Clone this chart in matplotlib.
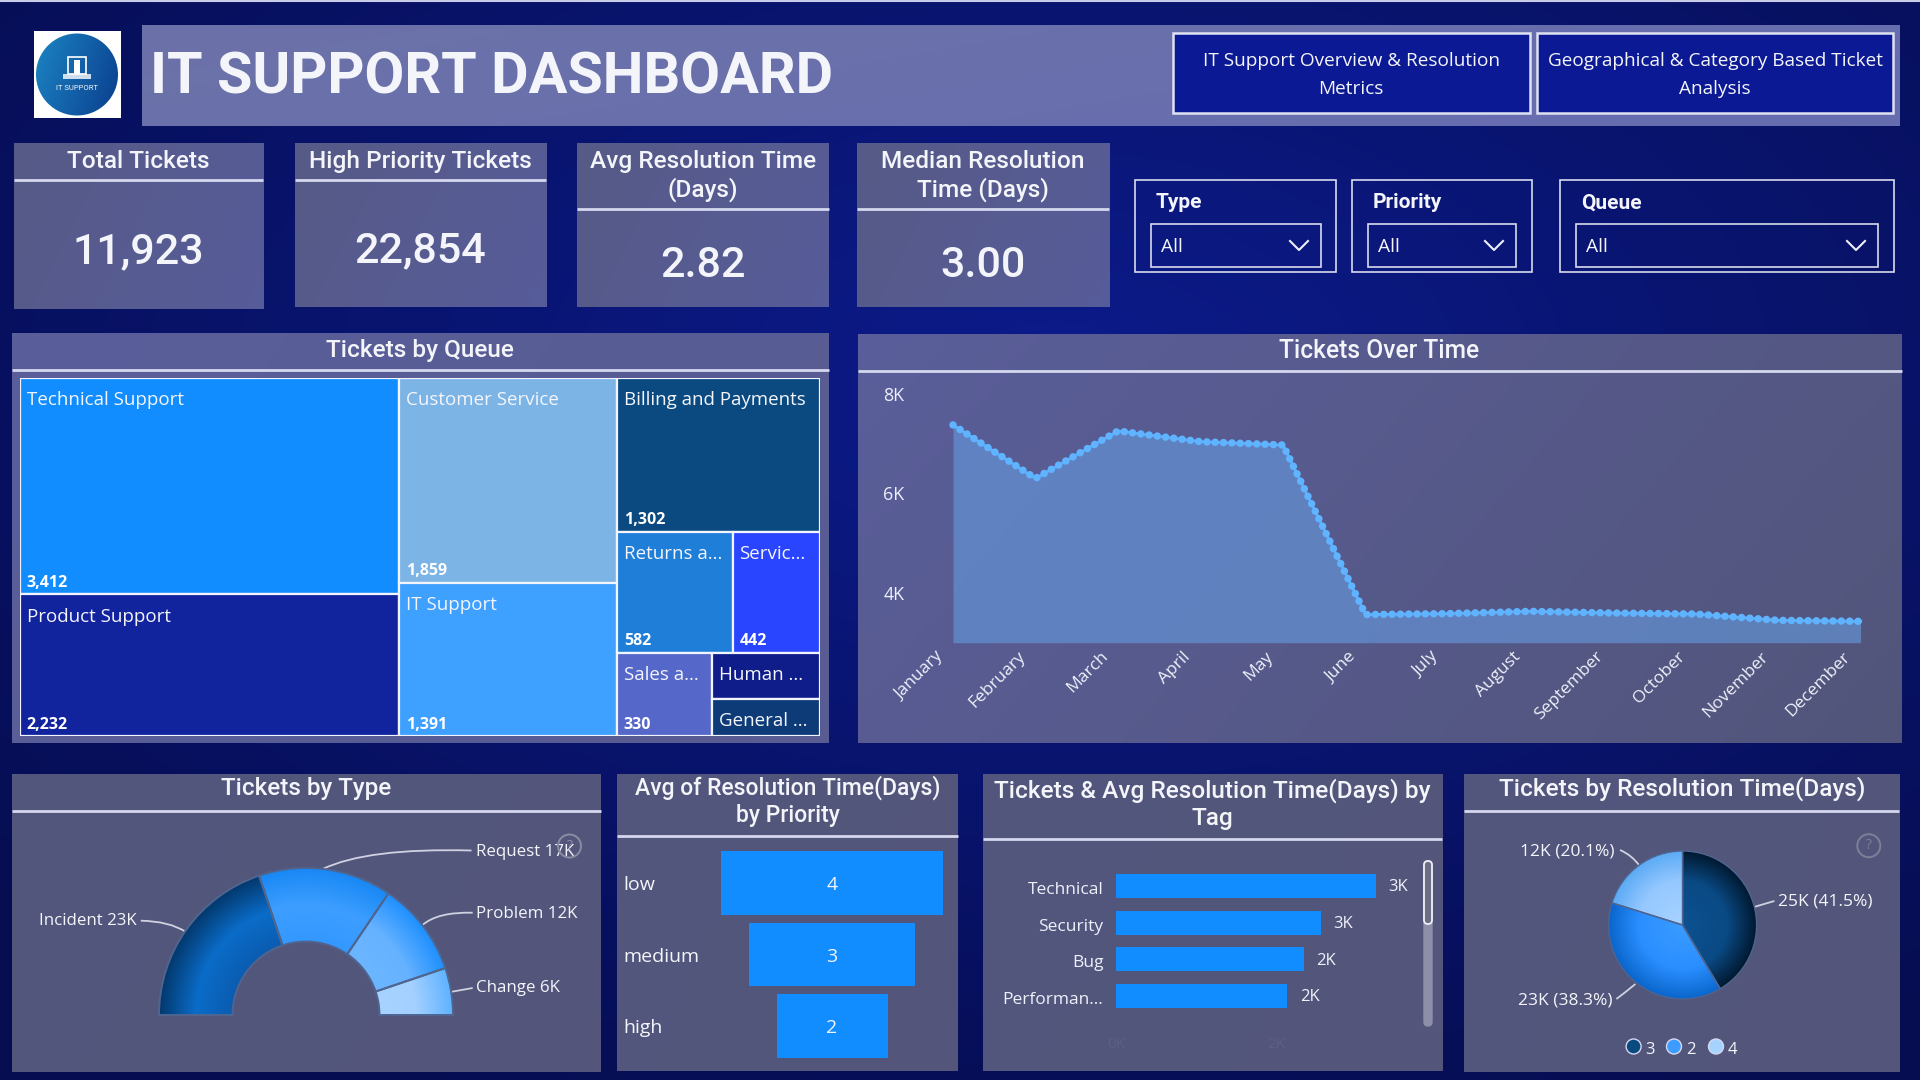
import numpy as np
import matplotlib
matplotlib.use("Agg")
import matplotlib.pyplot as plt
from matplotlib.colors import to_rgb
from matplotlib.patches import Rectangle, Ellipse, PathPatch, Circle, FancyBboxPatch
from matplotlib.path import Path
from matplotlib.transforms import ScaledTranslation

# ---------- data ----------
kpi_titles = ["Total Tickets", "High Priority Tickets", "Avg Resolution Time\n(Days)", "Median Resolution\nTime (Days)"]
kpi_values = ["11,923", "22,854", "2.82", "3.00"]
slicer_titles = ["Type", "Priority", "Queue"]
button_texts = ["IT Support Overview & Resolution\nMetrics", "Geographical & Category Based Ticket\nAnalysis"]

queue_names = ["Technical Support", "Product Support", "Customer Service", "IT Support", "Billing and Payments",
               "Returns a...", "Servic...", "Sales a...", "Human ...", "General ..."]
queue_values = [3412, 2232, 1859, 1391, 1302, 582, 442, 330, 208, 165]
queue_show = [True, True, True, True, True, True, True, True, False, False]

months = ["January", "February", "March", "April", "May", "June", "July", "August",
          "September", "October", "November", "December"]
month_tickets = [7378, 6303, 7257, 7042, 6975, 3565, 3585, 3631, 3597, 3577, 3450, 3430]
month_ticks = [4000, 6000, 8000]
month_tick_labels = ["4K", "6K", "8K"]

type_names = ["Incident", "Request", "Problem", "Change"]
type_values = [23, 17, 12, 6]

priority_names = ["low", "medium", "high"]
priority_values = [4, 3, 2]

tag_names = ["Technical", "Security", "Bug", "Performan..."]
tag_values = [3270, 2577, 2362, 2154]
tag_labels = ["3K", "3K", "2K", "2K"]

res_names = ["3", "2", "4"]
res_values = [24.9, 23.0, 12.1]
res_labels = ["25K (41.5%)", "23K (38.3%)", "12K (20.1%)"]

# ---------- fonts & helpers ----------
DIN = "Roboto"
BODY = "Open Sans"
W, H = 1920, 1080
fig = plt.figure(figsize=(19.2, 10.8), dpi=100)

base = fig.add_axes([0, 0, 1, 1], zorder=0)
base.set_xlim(0, W); base.set_ylim(H, 0); base.axis("off")


def axes_px(x0, y0, x1, y1, zorder=5):
    ax = fig.add_axes([x0 / W, 1 - y1 / H, (x1 - x0) / W, (y1 - y0) / H], zorder=zorder)
    ax.patch.set_alpha(0)
    return ax


def grad_img(c1, c2, n=64):
    a, b = np.array(to_rgb(c1)), np.array(to_rgb(c2))
    xx, yy = np.meshgrid(np.linspace(0, 1, n), np.linspace(0, 1, n))
    t = (0.75 * xx + 0.25 * yy)[..., None]
    return a * (1 - t) + b * t


def panel(x0, y0, x1, y1, c1="#565a88", c2="#53567c"):
    base.imshow(grad_img(c1, c2), extent=(x0, x1, y1, y0), aspect="auto", interpolation="bilinear", zorder=1)
    base.set_xlim(0, W); base.set_ylim(H, 0)


def hline(y, x0, x1, lw=2.0):
    base.plot([x0, x1], [y, y], color="#d5d8ee", lw=lw, zorder=3, solid_capstyle="butt")


def txt(x, y, s, size=13, ha="center", va="center", weight="normal", family=BODY, color="#f4f5fa", linespacing=1.15, alpha=1):
    if family == BODY:
        y = y + 2
    base.text(x, y, s, fontsize=size, ha=ha, va=va, fontweight=weight, family=family, color=color,
              linespacing=linespacing, zorder=6, alpha=alpha)


def leader(p0, p1, bend):
    c = ((p0[0] + p1[0]) / 2 + bend[0], (p0[1] + p1[1]) / 2 + bend[1])
    base.add_patch(PathPatch(Path([p0, c, p1], [Path.MOVETO, Path.CURVE3, Path.CURVE3]), fc="none",
                             ec="#cfd2e0", lw=1.3, zorder=6))


def shade(ax, wedge, stops, colours):
    g = np.linspace(-1.02, 1.02, 500)
    xx, yy = np.meshgrid(g, g)
    r = np.hypot(xx, yy)
    rgb = np.array([to_rgb(c) for c in colours])
    img = np.dstack([np.interp(r, stops, rgb[:, i]) for i in range(3)])
    im = ax.imshow(img, extent=(-1.02, 1.02, -1.02, 1.02), origin="lower", zorder=1, interpolation="bilinear")
    im.set_clip_path(wedge)
    wedge.set_facecolor("none")
    wedge.set_zorder(2)


# ---------- background ----------
yy, xx = np.mgrid[0:1:108j, 0:1:192j]
d = np.clip(np.hypot((xx - 0.55) / 0.75, (yy - 0.35) / 0.75), 0, 1)[..., None]
bg = np.array(to_rgb("#0c1b8c")) * (1 - d) + np.array(to_rgb("#060d50")) * d
base.imshow(bg, extent=(0, W, H, 0), aspect="auto", interpolation="bilinear", zorder=0)
base.set_xlim(0, W); base.set_ylim(H, 0)
base.plot([0, W], [1, 1], color="#c8cce8", lw=1.5, zorder=1)

# ---------- header ----------
base.add_patch(Rectangle((34, 31), 87, 87, fc="white", ec="none", zorder=2))
logo = Ellipse((77, 74.5), 82, 82, fc="none", ec="none", zorder=3)
base.add_patch(logo)
im = base.imshow(grad_img("#1c86c4", "#0a3c8c"), extent=(34, 121, 118, 31), aspect="auto", interpolation="bilinear", zorder=3)
im.set_clip_path(logo)
base.set_xlim(0, W); base.set_ylim(H, 0)
base.add_patch(Rectangle((68, 57), 18, 17, fc="none", ec="white", lw=1.2, zorder=4))
base.add_patch(Rectangle((74, 60), 6, 14, fc="white", ec="none", zorder=4))
base.add_patch(Rectangle((63, 74), 28, 5, fc="white", ec="none", alpha=.8, zorder=4))
txt(77, 88, "IT SUPPORT", size=5.5, family=DIN)

panel(142, 25, 1900, 126, "#6c72a8", "#666db0")
txt(150, 78, "IT SUPPORT DASHBOARD", size=41.5, ha="left", weight="bold", family=DIN)

for (x0, x1), s in zip([(1173, 1529.5), (1537, 1893)], button_texts):
    base.add_patch(Rectangle((x0, 33), x1 - x0, 79.5, fc="#0b1a94", ec="#dfe2f2", lw=1.8, zorder=3))
    txt((x0 + x1) / 2, 73, s, size=13.7, linespacing=1.65)

# ---------- KPI cards ----------
kpi_boxes = [(13.5, 263, 309, 180), (294.5, 546, 306.7, 180), (577, 828.5, 306.7, 208.7), (857, 1109.4, 306.7, 208.7)]
for (x0, x1, yb, yl), t, v in zip(kpi_boxes, kpi_titles, kpi_values):
    panel(x0, 143.3, x1, yb, "#565a86", "#575c9a")
    hline(yl, x0, x1)
    txt((x0 + x1) / 2, (143.3 + yl) / 2, t, size=17.6, family=DIN, weight="medium", linespacing=1.2)
    txt((x0 + x1) / 2, (yl + yb) / 2 + 7.5, v, size=31, family=DIN, weight="medium")

# ---------- slicers ----------
slicer_boxes = [(1135, 1336, 1151, 1321), (1352, 1532, 1368, 1516), (1560, 1894, 1576, 1878)]
for (x0, x1, ix0, ix1), t in zip(slicer_boxes, slicer_titles):
    base.add_patch(Rectangle((x0, 180), x1 - x0, 92, fc="none", ec="#d8dbee", lw=1.2, zorder=3))
    base.add_patch(Rectangle((ix0, 224), ix1 - ix0, 43, fc="none", ec="#d8dbee", lw=1.2, zorder=3))
    txt(x0 + 21, 203, t, size=15, ha="left", weight="bold", family=DIN)
    txt(ix0 + 10, 245, "All", size=13.8, ha="left")
    cx = ix1 - 22
    base.plot([cx - 9, cx, cx + 9], [241, 250, 241], color="#eef0fa", lw=1.5, zorder=4)

# ---------- treemap ----------
panel(12, 333, 829, 743, "#5a5e9a", "#585c92")
hline(370, 12, 829)
txt(420, 351, "Tickets by Queue", size=17.6, family=DIN, weight="medium")
tm = axes_px(19.6, 378, 820.4, 736)
tm.set_xlim(0, 1); tm.set_ylim(1, 0); tm.axis("off")
tot = sum(queue_values)
queue_colors = ["#118dff", "#12239e", "#7db4e6", "#3ea0ff", "#0b4a80", "#1f7fd8", "#2a45ff", "#5567c8", "#0f1d8a", "#0d3b78"]
v = queue_values
c1 = (v[0] + v[1]) / tot
c2 = (v[2] + v[3]) / tot
rest = sum(v[4:])
r1, r2 = v[4] / rest, (v[5] + v[6]) / rest
s_w = v[7] / (v[7] + v[8] + v[9])
rects = [
    (0, 0, c1, v[0] / (v[0] + v[1])),
    (0, v[0] / (v[0] + v[1]), c1, v[1] / (v[0] + v[1])),
    (c1, 0, c2, v[2] / (v[2] + v[3])),
    (c1, v[2] / (v[2] + v[3]), c2, v[3] / (v[2] + v[3])),
    (c1 + c2, 0, 1 - c1 - c2, r1),
    (c1 + c2, r1, (1 - c1 - c2) * v[5] / (v[5] + v[6]), r2),
    (c1 + c2 + (1 - c1 - c2) * v[5] / (v[5] + v[6]), r1, (1 - c1 - c2) * v[6] / (v[5] + v[6]), r2),
    (c1 + c2, r1 + r2, (1 - c1 - c2) * s_w, 1 - r1 - r2),
    (c1 + c2 + (1 - c1 - c2) * s_w, r1 + r2, (1 - c1 - c2) * (1 - s_w), (1 - r1 - r2) * v[8] / (v[8] + v[9])),
    (c1 + c2 + (1 - c1 - c2) * s_w, r1 + r2 + (1 - r1 - r2) * v[8] / (v[8] + v[9]), (1 - c1 - c2) * (1 - s_w),
     (1 - r1 - r2) * v[9] / (v[8] + v[9])),
]
for (x, y, w, h), col, name, val, show in zip(rects, queue_colors, queue_names, queue_values, queue_show):
    tm.add_patch(Rectangle((x, y), w, h, fc=col, ec="#f2f4ff", lw=1.6))
    tm.annotate(name, (x, y), xytext=(5, -9.5), textcoords="offset points", va="top", ha="left",
                fontsize=13.5, color="#f4f5fa", family=BODY)
    if show:
        tm.annotate(f"{val:,}", (x, y + h), xytext=(5, 2.5), textcoords="offset points", va="bottom", ha="left",
                    fontsize=11.5, color="white", family=BODY, fontweight="bold")

# ---------- line chart ----------
panel(858, 334, 1901.6, 743, "#5a5e9a", "#52557a")
hline(370.7, 858, 1901.6)
txt(1379, 351, "Tickets Over Time", size=17.7, family=DIN, weight="medium")
lc = axes_px(953, 394, 1860.6, 642.7)
mx = np.arange(len(months))
lc.set_xlim(0, 11); lc.set_ylim(3000, 8000)
lc.fill_between(mx, month_tickets, 3000, color="#669ade", alpha=0.62, lw=0)
lc.plot(mx, month_tickets, color="#5bb0ff", lw=2, solid_joinstyle="round", clip_on=False)
lc.plot(mx, month_tickets, color="#5fb3ff", lw=5.4, linestyle=(0, (0.01, 1.1)), dash_capstyle="round", clip_on=False)
for s in lc.spines.values():
    s.set_visible(False)
lc.set_xticks(mx)
lc.set_xticklabels(months, rotation=45, ha="right", rotation_mode="anchor", fontsize=12.5, family=BODY, color="#eef0fa")
lc.set_yticks(month_ticks)
lc.set_yticklabels(month_tick_labels, fontsize=12.8, family=BODY, color="#eef0fa")
lc.tick_params(length=0, pad=10)
lc.tick_params(axis="y", pad=35)
shift = ScaledTranslation(-0.18, 0.08, fig.dpi_scale_trans)
for lab in lc.get_xticklabels():
    lab.set_transform(lab.get_transform() + shift)
lc.patch.set_alpha(0)

# ---------- bottom panels ----------
panel(12, 774, 601, 1071.7, "#54577d", "#53567a")
hline(810.7, 12, 601)
txt(306, 789, "Tickets by Type", size=17.5, family=DIN, weight="medium")
panel(617, 774, 957.6, 1070.7, "#54577d", "#53567a")
hline(835.7, 617, 957.6)
txt(788, 801, "Avg of Resolution Time(Days)\nby Priority", size=16.5, family=DIN, weight="medium", linespacing=1.25)
panel(982.7, 774, 1442, 1071, "#54577d", "#53567a")
hline(839, 982.7, 1442)
txt(1212, 804, "Tickets & Avg Resolution Time(Days) by\nTag", size=17.6, family=DIN, weight="medium", linespacing=1.25)
panel(1464, 774, 1899.4, 1072, "#54577d", "#53567a")
hline(810.7, 1464, 1899.4)
txt(1682.6, 789, "Tickets by Resolution Time(Days)", size=17.6, family=DIN, weight="medium")

# donut
dn = axes_px(159, 868, 453, 1162)
wedges, _ = dn.pie(type_values + [sum(type_values)], startangle=180, counterclock=False, radius=1,
                   wedgeprops=dict(width=0.5, edgecolor="#4f6590", linewidth=1.4))
wedges[-1].remove()
dn.set_xlim(-1, 1); dn.set_ylim(-1, 1)
donut_shades = [
    (["#0a5cb0", "#0a6cc8", "#03386c"]),
    (["#3398ff", "#3d9eff", "#1888f5"]),
    (["#6cb6ff", "#66b2ff", "#1e90ff"]),
    (["#a8d3ff", "#a3d0ff", "#5fb2ff"]),
]
for w, cols in zip(wedges[:-1], donut_shades):
    shade(dn, w, [0.5, 0.75, 1.0], cols)
dn.set_xlim(-1, 1); dn.set_ylim(-1, 1)
leader((322.7, 869), (471.5, 850.5), (-30, -12))
leader((422.5, 925), (472.7, 912.7), (-10, -7))
leader((452, 991.7), (472.7, 988), (0, 0))
leader((185.5, 931.7), (140.8, 920.7), (6, -5))
for (x, y, ha), n, val in zip([(137, 919, "right"), (476.5, 849.5, "left"), (476.5, 911.5, "left"), (476.5, 986.5, "left")],
                              type_names, type_values):
    txt(x, y, f"{n} {val}K", size=12.2, ha=ha)
base.add_patch(Circle((569.5, 846), 11.5, fc="none", ec="#8a8ca2", lw=1.4, zorder=6))
txt(569.5, 844, "?", size=10, color="#8a8ca2")

# priority funnel
pr = axes_px(721, 847.5, 943, 1061.5)
ypos = np.arange(len(priority_names))
pv = np.array(priority_values)
pr.barh(ypos, pv, left=-pv / 2, height=0.895, color="#118dff")
pr.set_xlim(-2, 2); pr.set_ylim(2.5, -0.5); pr.axis("off")
for y, n, val in zip(ypos, priority_names, priority_values):
    pr.annotate(str(val), (0, y), xytext=(0, -1.5), textcoords="offset points", ha="center", va="center",
                color="#f4f5fa", fontsize=14, family=BODY)
    pr.annotate(n, (-2, y), xytext=(-70, -1.5), textcoords="offset points", ha="left", va="center",
                color="#f4f5fa", fontsize=14, family=BODY)

# tag bars
tg = axes_px(1116, 867.6, 1395, 1014.4)
ty = np.arange(len(tag_names))
tg.barh(ty, tag_values, height=0.654, color="#118dff")
tg.set_xlim(0, 279 / 159 * 2000); tg.set_ylim(3.5, -0.5)
for s in tg.spines.values():
    s.set_visible(False)
tg.set_xticks([]); tg.set_yticks(ty)
tg.set_yticklabels(tag_names, fontsize=12.5, family=BODY, color="#eef0fa")
tg.tick_params(length=0, pad=9)
down = ScaledTranslation(0, -0.02, fig.dpi_scale_trans)
for lab in tg.get_yticklabels():
    lab.set_transform(lab.get_transform() + down)
for y, val, lab in zip(ty, tag_values, tag_labels):
    tg.annotate(lab, (val, y), xytext=(9, -1), textcoords="offset points", va="center", ha="left",
                color="#f0f1fa", fontsize=12, family=BODY, annotation_clip=False)
txt(1116, 1043, "0K", size=11, color="#5d6085")
txt(1276, 1043, "2K", size=11, color="#5d6085")
base.add_patch(FancyBboxPatch((1424, 861), 8, 165, boxstyle="round,pad=0,rounding_size=4", fc="#8d8fa8", ec="#8d8fa8", lw=1, zorder=4))
base.add_patch(FancyBboxPatch((1424, 861), 8, 63, boxstyle="round,pad=0,rounding_size=4", fc="#6d6e85", ec="#f0f0f8", lw=1.3, zorder=5))

# pie
pe = axes_px(1608.6, 851, 1756.6, 999)
pw, _ = pe.pie(res_values, startangle=90, counterclock=False, radius=1,
               wedgeprops=dict(edgecolor="#4f6590", linewidth=1.0))
pe.set_xlim(-1, 1); pe.set_ylim(-1, 1)
pie_shades = [
    (["#0c5192", "#0a4a84", "#01182f"]),
    (["#3a9cff", "#2a8eff", "#0a66cc"]),
    (["#a8d3ff", "#95c8ff", "#5cabf5"]),
]
for w, cols in zip(pw, pie_shades):
    shade(pe, w, [0.0, 0.6, 1.0], cols)
pe.set_xlim(-1, 1); pe.set_ylim(-1, 1)
leader((1774.4, 901), (1755, 906.7), (0, 0))
leader((1616.4, 999), (1635.4, 984), (-2, 2))
leader((1620, 850), (1639.7, 866), (2, -3))
txt(1778, 900, res_labels[0], size=12.5, ha="left")
txt(1612.8, 998.5, res_labels[1], size=12.5, ha="right")
txt(1615, 849, res_labels[2], size=12.5, ha="right")
for cx, lx, n, fc in zip([1633.6, 1674, 1716], [1650, 1690.5, 1732.8], res_names, ["#0b4a80", "#3d9cff", "#a5d2ff"]):
    base.add_patch(Circle((cx, 1046.5), 7.5, fc=fc, ec="#d5d8ee", lw=1, zorder=6))
    txt(lx, 1048.5, n, size=12)
base.add_patch(Circle((1868.8, 845.7), 11.5, fc="none", ec="#7d8098", lw=1.4, zorder=6))
txt(1868.8, 843.7, "?", size=10, color="#7d8098")

fig.savefig("out.png", dpi=100)
